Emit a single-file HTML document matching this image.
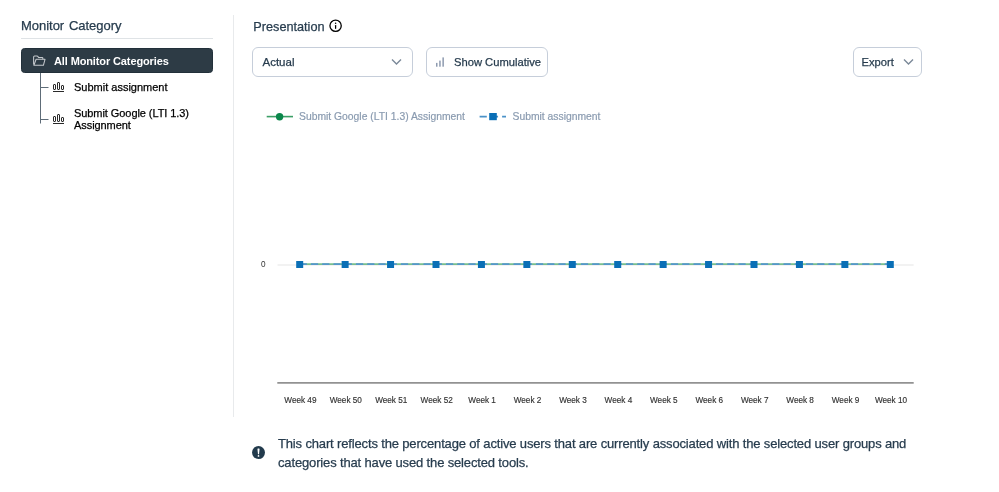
<!DOCTYPE html>
<html><head><meta charset="utf-8">
<style>
*{margin:0;padding:0;box-sizing:border-box}
html{-webkit-font-smoothing:antialiased}
body{will-change:transform;width:999px;height:492px;background:#fff;overflow:hidden;font-family:"Liberation Sans",sans-serif;color:#2d3b45}
.a{position:absolute;white-space:nowrap;line-height:1;-webkit-text-stroke:0.25px currentColor}
#title{left:21px;top:19px;font-size:13px;color:#273c4e;word-spacing:1.2px;letter-spacing:-0.03px}
#sep{left:21px;top:38px;width:192px;height:1px;background:#dfe3e6}
#sel{left:21px;top:48px;width:192px;height:25.3px;background:#2d3b45;border:1px solid #22303a;border-radius:3.5px}
#allc{left:54px;top:56px;font-size:11px;font-weight:bold;color:#fff;letter-spacing:-0.12px;-webkit-text-stroke:0}
.ti{font-size:11px;color:#000}
#vdiv{left:232.7px;top:15px;width:1px;height:402px;background:#e8eaec}
#pres{left:253.3px;top:21px;font-size:12.7px;color:#273c4e}
.box{position:absolute;border:1px solid #c6ceda;border-radius:6px;background:#fff}
.bt{font-size:11.2px;color:#273c4e}
#para{left:278px;top:435px;font-size:13px;line-height:18.7px;color:#273c4e;white-space:normal;width:660px;letter-spacing:-0.15px}
</style></head><body>
<div class="a" id="title">Monitor Category</div>
<div class="a" id="sep"></div>
<div class="a" id="sel"></div>
<svg class="a" style="left:0;top:0" width="240" height="140" viewBox="0 0 240 140">
  <!-- folder icon -->
  <g fill="none" stroke="#c4c8cc" stroke-width="1.05" stroke-linejoin="round">
    <path d="M33.6 64.5 V57 Q33.6 56 34.6 56 H37 Q37.6 56 38 56.6 L38.5 57.5 H42.2 Q42.8 57.5 42.8 58.1 V59.2"/>
    <path d="M33.9 65.3 L36.1 59.3 H45 L43.4 65.3 Z"/>
  </g>
  <!-- tree lines -->
  <g stroke="#5e6c78" stroke-width="1" fill="none">
    <path d="M40.5 73 V123.5"/>
    <path d="M40.5 87.5 H48.5"/>
    <path d="M40.5 119.5 H48.5"/>
  </g>
  <!-- bar icons -->
  <defs><g id="bic" fill="none" stroke="#2a2a2a" stroke-width="1">
    <rect x="53.5" y="84.5" width="2" height="5" rx="0.5"/>
    <rect x="57.5" y="82.5" width="2" height="7" rx="0.5"/>
    <rect x="61.5" y="85.5" width="2" height="4" rx="0.5"/>
    <path d="M53 91.5 H64"/>
  </g></defs>
  <use href="#bic"/>
  <use href="#bic" transform="translate(0,32)"/>
</svg>
<div class="a" id="allc">All Monitor Categories</div>
<div class="a ti" style="left:74px;top:81.6px">Submit assignment</div>
<div class="a ti" style="left:74px;top:106.7px;line-height:12.6px;letter-spacing:-0.07px">Submit Google (LTI 1.3)<br>Assignment</div>

<div class="a" id="vdiv"></div>
<div class="a" id="pres">Presentation</div>
<svg class="a" style="left:328px;top:18px" width="16" height="16" viewBox="0 0 16 16">
  <circle cx="7.6" cy="7.75" r="5.65" fill="none" stroke="#000" stroke-width="1.3"/>
  <circle cx="7.6" cy="5.25" r="0.75" fill="#000"/>
  <path d="M7.6 7.6 V10.3" stroke="#000" stroke-width="1.25" stroke-linecap="round"/>
</svg>

<div class="box" style="left:252px;top:47.4px;width:161.3px;height:29.6px"></div>
<div class="a bt" style="left:262.5px;top:56.8px;font-size:11.5px">Actual</div>
<svg class="a" style="left:390px;top:57px" width="14" height="10" viewBox="0 0 14 10">
  <path d="M2 2.5 L6.5 7 L11 2.5" fill="none" stroke="#7a8898" stroke-width="1.35"/>
</svg>

<div class="box" style="left:425.8px;top:47.4px;width:122.2px;height:29.6px"></div>
<svg class="a" style="left:434px;top:55px" width="12" height="14" viewBox="0 0 12 14">
  <g fill="#8e9bb0"><rect x="2" y="7.9" width="1.5" height="3.8"/><rect x="5.2" y="5.6" width="1.5" height="6.1"/><rect x="8.4" y="2.4" width="1.5" height="9.3"/></g>
</svg>
<div class="a bt" style="left:454px;top:57px">Show Cumulative</div>

<div class="box" style="left:852.9px;top:47.4px;width:69.4px;height:29.6px"></div>
<div class="a bt" style="left:861.5px;top:57px">Export</div>
<svg class="a" style="left:902px;top:57px" width="14" height="10" viewBox="0 0 14 10">
  <path d="M2 2.5 L6.5 7 L11 2.5" fill="none" stroke="#7a8898" stroke-width="1.35"/>
</svg>

<!-- chart -->
<svg class="a" style="left:0;top:0" width="999" height="420" viewBox="0 0 999 420" font-family="Liberation Sans, sans-serif">
  <!-- legend -->
  <path d="M266.7 116.6 H293" stroke="#3c9f66" stroke-width="1.6"/>
  <circle cx="279.6" cy="116.8" r="3.7" fill="#0b874b"/>
  <text x="299" y="119.8" font-size="10.35" fill="#8a9bb0" stroke="#8a9bb0" stroke-width="0.2">Submit Google (LTI 1.3) Assignment</text>
  <path d="M479.6 116.6 H506" stroke="#4b92c8" stroke-width="1.6" stroke-dasharray="7.2 4.05"/>
  <rect x="489.2" y="113" width="7.6" height="7.2" fill="#0a6fb6"/>
  <text x="512.5" y="119.8" font-size="10.35" fill="#8a9bb0" stroke="#8a9bb0" stroke-width="0.2">Submit assignment</text>
  <!-- grid -->
  <path d="M277.5 265 H913.6" stroke="#eeeeee" stroke-width="1.6"/>
  <text x="265.6" y="267.0" font-size="8.2" fill="#333" text-anchor="end">0</text>
  <!-- series -->
  <path d="M299.7 264.1 H890.3" stroke="#78bf8c" stroke-width="1.7"/>
  <path d="M299.7 264.1 H890.3" stroke="#5597cc" stroke-width="1.7" stroke-dasharray="7.2 4.05"/>
  <g id="pts" fill="#0a6fb6"><rect x="296.20" y="261" width="7" height="7"/><rect x="341.63" y="261" width="7" height="7"/><rect x="387.06" y="261" width="7" height="7"/><rect x="432.49" y="261" width="7" height="7"/><rect x="477.92" y="261" width="7" height="7"/><rect x="523.35" y="261" width="7" height="7"/><rect x="568.78" y="261" width="7" height="7"/><rect x="614.21" y="261" width="7" height="7"/><rect x="659.64" y="261" width="7" height="7"/><rect x="705.07" y="261" width="7" height="7"/><rect x="750.50" y="261" width="7" height="7"/><rect x="795.93" y="261" width="7" height="7"/><rect x="841.36" y="261" width="7" height="7"/><rect x="886.79" y="261" width="7" height="7"/></g>
  <!-- x axis -->
  <path d="M277.3 382.9 H913.7" stroke="#929292" stroke-width="1.7"/>
  <g id="xl" font-size="8.2" fill="#333" stroke="#333" stroke-width="0.15" text-anchor="middle"><text x="300.40" y="402.8">Week 49</text><text x="345.83" y="402.8">Week 50</text><text x="391.26" y="402.8">Week 51</text><text x="436.69" y="402.8">Week 52</text><text x="482.12" y="402.8">Week 1</text><text x="527.55" y="402.8">Week 2</text><text x="572.98" y="402.8">Week 3</text><text x="618.41" y="402.8">Week 4</text><text x="663.84" y="402.8">Week 5</text><text x="709.27" y="402.8">Week 6</text><text x="754.70" y="402.8">Week 7</text><text x="800.13" y="402.8">Week 8</text><text x="845.56" y="402.8">Week 9</text><text x="890.99" y="402.8">Week 10</text></g>
</svg>

<svg class="a" style="left:250px;top:444px" width="18" height="18" viewBox="0 0 18 18">
  <circle cx="8.5" cy="8.55" r="6.5" fill="#223a4c"/>
  <path d="M7.45 5.1 Q7.45 4.6 8 4.6 H9 Q9.55 4.6 9.55 5.1 L9.05 10 Q9 10.3 8.7 10.3 H8.3 Q8 10.3 7.95 10 Z" fill="#fff"/>
  <circle cx="8.5" cy="11.95" r="0.85" fill="#fff"/>
</svg>
<div class="a" id="para">This chart reflects the percentage of active users that are currently associated with the selected user groups and categories that have used the selected tools.</div>


</body></html>
